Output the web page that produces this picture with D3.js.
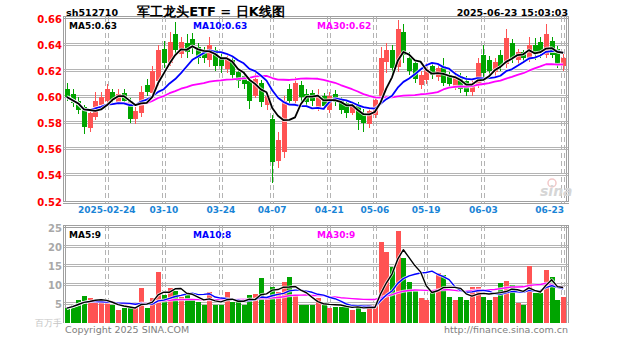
<!DOCTYPE html>
<html>
<head>
<meta charset="utf-8">
<script src="https://cdn.jsdelivr.net/npm/d3@7"></script>
<style>
  html, body { margin: 0; padding: 0; background: #fff; }
  svg { display: block; }
  text { font-family: "DejaVu Sans", sans-serif; }
</style>
</head>
<body>
<svg id="chart" width="627" height="342"></svg>
<script>
// ---- data: 军工龙头ETF (sh512710), daily bars ----
const dates = [
  "02-13","02-14","02-17","02-18","02-19","02-20","02-21","02-24","02-25","02-26",
  "02-27","02-28","03-03","03-04","03-05","03-06","03-07","03-10","03-11","03-12",
  "03-13","03-14","03-17","03-18","03-19","03-20","03-21","03-24","03-25","03-26",
  "03-27","03-28","03-31","04-01","04-02","04-03","04-07","04-08","04-09","04-10",
  "04-11","04-14","04-15","04-16","04-17","04-18","04-21","04-22","04-23","04-24",
  "04-25","04-28","04-29","04-30","05-06","05-07","05-08","05-09","05-12","05-13",
  "05-14","05-15","05-16","05-19","05-20","05-21","05-22","05-23","05-26","05-27",
  "05-28","05-29","05-30","06-03","06-04","06-05","06-06","06-09","06-10","06-11",
  "06-12","06-13","06-16","06-17","06-18","06-19","06-20","06-23"
];
const open = [
  0.606,0.602,0.597,0.592,0.576,0.585,0.594,0.597,0.604,0.596,
  0.603,0.597,0.583,0.588,0.609,0.603,0.612,0.637,0.626,0.648,
  0.633,0.641,0.644,0.638,0.634,0.628,0.636,0.630,0.621,0.628,
  0.619,0.616,0.612,0.601,0.611,0.594,0.583,0.551,0.558,0.606,
  0.597,0.609,0.602,0.603,0.592,0.601,0.590,0.602,0.598,0.595,
  0.588,0.594,0.588,0.579,0.586,0.600,0.627,0.636,0.623,0.650,
  0.630,0.626,0.609,0.613,0.624,0.615,0.624,0.617,0.607,0.616,
  0.612,0.604,0.609,0.632,0.628,0.619,0.632,0.625,0.641,0.628,
  0.634,0.630,0.640,0.642,0.632,0.643,0.637,0.624
];
const high = [
  0.611,0.606,0.600,0.594,0.590,0.604,0.604,0.610,0.606,0.606,
  0.606,0.599,0.592,0.608,0.614,0.624,0.640,0.643,0.650,0.657,
  0.646,0.648,0.649,0.641,0.638,0.646,0.638,0.634,0.633,0.631,
  0.622,0.620,0.615,0.618,0.613,0.603,0.586,0.573,0.601,0.610,
  0.615,0.612,0.606,0.605,0.606,0.603,0.604,0.605,0.600,0.597,
  0.597,0.596,0.591,0.592,0.601,0.638,0.641,0.640,0.659,0.656,
  0.634,0.628,0.620,0.626,0.626,0.625,0.630,0.619,0.620,0.618,
  0.616,0.614,0.630,0.640,0.631,0.630,0.636,0.652,0.644,0.637,
  0.636,0.646,0.645,0.646,0.656,0.646,0.639,0.633
];
const low = [
  0.597,0.592,0.587,0.572,0.573,0.582,0.591,0.594,0.595,0.594,
  0.594,0.580,0.579,0.585,0.601,0.600,0.608,0.622,0.624,0.632,
  0.630,0.630,0.633,0.625,0.626,0.623,0.620,0.618,0.618,0.613,
  0.607,0.606,0.591,0.599,0.592,0.590,0.534,0.546,0.553,0.594,
  0.594,0.596,0.592,0.593,0.589,0.590,0.588,0.593,0.587,0.584,
  0.586,0.575,0.573,0.576,0.584,0.598,0.618,0.616,0.619,0.626,
  0.617,0.611,0.606,0.610,0.614,0.612,0.608,0.607,0.605,0.603,
  0.601,0.601,0.607,0.614,0.616,0.616,0.620,0.622,0.626,0.624,
  0.626,0.627,0.628,0.630,0.630,0.630,0.622,0.620
];
const close = [
  0.600,0.595,0.590,0.577,0.588,0.597,0.600,0.606,0.598,0.602,
  0.597,0.583,0.589,0.604,0.604,0.620,0.636,0.626,0.642,0.636,
  0.642,0.634,0.640,0.630,0.630,0.640,0.624,0.624,0.630,0.617,
  0.612,0.610,0.597,0.614,0.596,0.601,0.550,0.567,0.597,0.597,
  0.611,0.600,0.596,0.597,0.601,0.593,0.601,0.596,0.590,0.588,
  0.594,0.582,0.580,0.589,0.598,0.630,0.636,0.622,0.652,0.632,
  0.620,0.614,0.617,0.621,0.617,0.622,0.611,0.610,0.616,0.606,
  0.604,0.611,0.626,0.618,0.620,0.627,0.624,0.645,0.630,0.634,
  0.630,0.640,0.633,0.634,0.648,0.632,0.625,0.630
];
// volume, in the unit shown under the volume axis
const volume = [
  3.9,4.7,6.0,7.1,6.6,5.6,5.2,5.2,4.7,3.4,
  3.9,3.9,3.9,9.2,3.9,6.6,13.4,7.4,9.2,8.4,
  6.9,7.3,6.0,5.5,4.7,8.2,4.7,4.7,8.2,5.5,
  5.5,4.7,7.4,7.7,11.8,6.8,9.5,8.2,10.8,12.1,
  7.5,4.7,4.7,4.7,6.5,4.7,3.9,4.3,4.3,4.7,
  3.4,4.5,3.0,4.7,4.7,21.4,18.8,14.8,24.3,17.1,
  10.9,8.5,6.5,6.0,8.2,13.2,12.6,6.9,6.0,6.9,
  6.0,9.6,9.6,6.9,6.0,6.9,10.5,11.1,10.0,5.2,
  4.8,15.0,7.9,7.9,14.0,12.0,6.0,6.9
];
const priceTicks = [0.52, 0.54, 0.56, 0.58, 0.60, 0.62, 0.64, 0.66];
const volumeTicks = [5, 10, 15, 20, 25];
const dateTickLabels = ["2025-02-24","03-10","03-24","04-07","04-21","05-06","05-19","06-03","06-23"];
const maPeriods = [5, 10, 30];
const maColors = ["#000000", "#0000ff", "#ff00ff"];

// ---- layout ----
const svg = d3.select("#chart");
const L = 64, R = 566;
const mainTop = 17, mainBottom = 203;
const volTop = 226, volBottom = 323;
const UP = "#ff5353", DOWN = "#00a400", GRID = "#b4b4b4", FRAME = "#a0a0a0";

const x = d3.scaleBand().domain(d3.range(dates.length)).range([L, R])
  .paddingInner(0.18).paddingOuter(0.09);
const cx = i => x(i) + x.bandwidth() / 2;
const y = d3.scaleLinear().domain([0.52, 0.66]).range([201.5, 18.5]);
const yv = d3.scaleLinear().domain([0, 25]).range([volBottom, 228]);

// moving average over the bars available so far
function movingAverage(vals, n) {
  return vals.map((v, i) => d3.mean(vals.slice(Math.max(0, i - n + 1), i + 1)));
}

// ---- frames and grid ----
const grid = svg.append("g");
function frame(top, bottom, withBottom) {
  const g = grid.append("g").attr("fill", "none").attr("stroke", FRAME).attr("stroke-width", 1);
  [L - 0.5, L + 1.5].forEach(px => g.append("line").attr("x1", px).attr("x2", px).attr("y1", top).attr("y2", bottom));
  [R + 0.5, R + 2.5].forEach(px => g.append("line").attr("x1", px).attr("x2", px).attr("y1", top).attr("y2", bottom));
  [top - 0.5, top + 1.5].forEach(py => g.append("line").attr("x1", L - 1).attr("x2", R + 3).attr("y1", py).attr("y2", py));
  if (withBottom) [bottom - 0.5, bottom + 1.5].forEach(py => g.append("line").attr("x1", L - 1).attr("x2", R + 3).attr("y1", py).attr("y2", py));
}
frame(mainTop, mainBottom - 1, true);
frame(volTop, volBottom, false);

// horizontal grid lines
priceTicks.slice(1, -1).forEach(t => {
  const py = Math.round(y(t));
  [py - 1.5, py + 0.5].forEach(v => grid.append("line").attr("x1", L).attr("x2", R + 2)
    .attr("y1", v).attr("y2", v).attr("stroke", GRID));
});
volumeTicks.slice(0, -1).forEach(t => {
  const py = Math.round(yv(t));
  [py - 1.5, py + 0.5].forEach(v => grid.append("line").attr("x1", L).attr("x2", R + 2)
    .attr("y1", v).attr("y2", v).attr("stroke", GRID));
});

// vertical dashed grid lines at the labelled dates
const tickIdx = dateTickLabels.map(s => dates.indexOf(s.slice(-5)));
tickIdx.forEach(i => {
  const px = Math.round(cx(i));
  [px - 1.5, px + 1.5].forEach(v => {
    [[mainTop, mainBottom], [volTop, volBottom]].forEach(([a, b]) =>
      grid.append("line").attr("x1", v).attr("x2", v).attr("y1", a).attr("y2", b)
        .attr("stroke", GRID).attr("stroke-dasharray", "5,3"));
  });
});

// ---- axes ----
const priceAxis = d3.axisLeft(y).tickValues(priceTicks).tickSize(0).tickPadding(0)
  .tickFormat(d3.format(".2f"));
svg.append("g").attr("transform", `translate(62,0)`).call(priceAxis)
  .call(g => g.select(".domain").remove())
  .selectAll("text").attr("fill", "#ff0000").attr("font-size", 10).attr("font-weight", "bold")
  .attr("font-family", "DejaVu Sans").attr("dy", "0.36em");

const volAxis = d3.axisLeft(yv).tickValues(volumeTicks).tickSize(0).tickPadding(0);
svg.append("g").attr("transform", `translate(62,0)`).call(volAxis)
  .call(g => g.select(".domain").remove())
  .selectAll("text").attr("fill", "#a8a8a8").attr("font-size", 10).attr("font-weight", "bold")
  .attr("font-family", "DejaVu Sans").attr("dy", "0.36em");

const dateAxis = d3.axisBottom(x).tickValues(tickIdx).tickSize(0).tickPadding(0)
  .tickFormat((d, k) => dateTickLabels[k]);
const dateG = svg.append("g").attr("transform", `translate(0,206)`).call(dateAxis);
dateG.select(".domain").remove();
dateG.selectAll("text").attr("fill", "#1a84d6").attr("font-size", 9).attr("font-weight", "bold")
  .attr("font-family", "DejaVu Sans").attr("dy", "0.75em")
  .each(function () {
    // keep the last label inside the plot
    const bb = this.getBBox();
    const t = d3.select(this.parentNode).attr("transform");
    const tx = +/translate\(([-\d.]+)/.exec(t)[1];
    const over = tx + bb.x + bb.width - (R - 2);
    if (over > 0) d3.select(this).attr("x", -over);
  });

// ---- candles ----
const candles = svg.append("g").attr("shape-rendering", "crispEdges");
d3.range(dates.length).forEach(i => {
  const up = close[i] >= open[i];
  const col = up ? UP : DOWN;
  const xc = Math.round(cx(i));
  candles.append("line").attr("x1", xc + 0.5).attr("x2", xc + 0.5)
    .attr("y1", y(high[i])).attr("y2", y(low[i])).attr("stroke", col);
  const top = y(Math.max(open[i], close[i])), bot = y(Math.min(open[i], close[i]));
  candles.append("rect").attr("x", xc - 2).attr("width", 5)
    .attr("y", top).attr("height", Math.max(1, bot - top)).attr("fill", col);
});

// ---- volume bars ----
const vols = svg.append("g").attr("shape-rendering", "crispEdges");
d3.range(dates.length).forEach(i => {
  const col = close[i] >= open[i] ? UP : DOWN;
  const xc = Math.round(cx(i));
  vols.append("rect").attr("x", xc - 2).attr("width", 5)
    .attr("y", yv(volume[i])).attr("height", yv(0) - yv(volume[i])).attr("fill", col);
});

// ---- moving averages (white casing under each line) ----
const priceMA = maPeriods.map(n => movingAverage(close, n));
const volMA = maPeriods.map(n => movingAverage(volume, n));
const maLayer = svg.append("g").attr("fill", "none").attr("stroke-linejoin", "round");
const priceLine = d3.line().x((d, i) => cx(i)).y(d => y(d));
const volLine = d3.line().x((d, i) => cx(i)).y(d => yv(d));
[2, 1, 0].forEach(k => {
  [[priceMA[k], priceLine, 1.8], [volMA[k], volLine, 1.4]].forEach(([vals, gen, w]) => {
    maLayer.append("path").datum(vals).attr("d", gen)
      .attr("stroke", "#fff").attr("stroke-opacity", 0.75).attr("stroke-width", w + 1.6);
    maLayer.append("path").datum(vals).attr("d", gen)
      .attr("stroke", maColors[k]).attr("stroke-width", w);
  });
});

// ---- legends ----
const last = a => a[a.length - 1];
const legendX = [69, 193, 317];
maPeriods.forEach((n, k) => {
  svg.append("text").attr("x", legendX[k]).attr("y", 29).attr("fill", maColors[k])
    .attr("font-size", 9).attr("font-weight", "bold")
    .text(`MA${n}:${last(priceMA[k]).toFixed(2)}`);
  svg.append("text").attr("x", legendX[k]).attr("y", 238).attr("fill", maColors[k])
    .attr("font-size", 9).attr("font-weight", "bold")
    .text(`MA${n}:${Math.floor(last(volMA[k]))}`);
});

// ---- header ----
svg.append("text").attr("x", 66).attr("y", 16).attr("font-size", 9.5).attr("font-weight", "bold")
  .attr("fill", "#000").text("sh512710");
svg.append("text").attr("x", 211).attr("y", 16).attr("text-anchor", "middle")
  .attr("font-family", "Noto Sans CJK SC").attr("font-size", 13).attr("font-weight", "bold")
  .attr("fill", "#000").text("军工龙头ETF = 日K线图");
svg.append("text").attr("x", 568).attr("y", 16).attr("text-anchor", "end").attr("font-size", 9.5)
  .attr("font-weight", "bold").attr("fill", "#000").text("2025-06-23 15:03:03");

// ---- footer ----
svg.append("text").attr("x", 62).attr("y", 326).attr("text-anchor", "end")
  .attr("font-family", "Noto Sans CJK SC").attr("font-size", 9).attr("fill", "#c4c4c4").text("百万手");
svg.append("text").attr("x", 65).attr("y", 333).attr("font-size", 9.5).attr("fill", "#808080")
  .text("Copyright 2025 SINA.COM");
svg.append("text").attr("x", 568).attr("y", 333).attr("text-anchor", "end").attr("font-size", 9.5)
  .attr("fill", "#808080").text("http://finance.sina.com.cn");

// ---- watermark ----
svg.append("circle").attr("cx", 552).attr("cy", 183).attr("r", 4)
  .attr("fill", "none").attr("stroke", "#f2c8c8").attr("stroke-width", 1.5);
svg.append("text").attr("x", 540).attr("y", 196).attr("font-size", 14).attr("font-weight", "bold")
  .attr("font-style", "italic").attr("fill", "#d6d6d6").text("sina");
</script>
</body>
</html>
